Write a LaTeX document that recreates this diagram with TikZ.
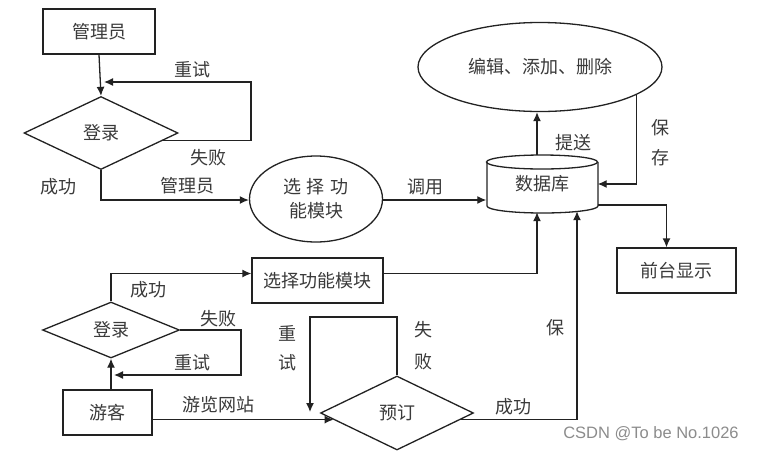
\documentclass[tikz,border=0pt]{standalone}
\usepackage{fontspec}
\newfontfamily\cjk{Noto Sans CJK SC}
\newfontfamily\wm{Liberation Sans}
\usetikzlibrary{shapes.geometric,arrows.meta,calc}
\definecolor{ln}{HTML}{222222}
\definecolor{tx}{HTML}{3a3a3a}
\begin{document}
\begin{tikzpicture}[x=1pt,y=-1pt,
  every node/.style={font=\cjk\fontsize{18}{21}\selectfont, text=tx},
  box/.style={draw=ln, line width=1.3pt, rectangle, inner sep=0pt},
  dia/.style={draw=ln, line width=1.3pt, diamond, inner sep=0pt},
  ell/.style={draw=ln, line width=1.3pt, ellipse, inner sep=0pt},
  arr/.style={draw=ln, line width=1.3pt, -{Latex[length=9pt,width=8pt]}},
  lbl/.style={inner sep=0pt}]
\useasboundingbox (0,0) rectangle (764,451);
\fill[white] (0,0) rectangle (764,451);

% upper part
\node[box, minimum width=112pt, minimum height=45pt] (adm) at (99,31.5) {管理员};
\node[dia, minimum width=154pt, minimum height=73pt] (d1) at (101,133) {登录};
\node[ell, minimum width=133pt, minimum height=86pt, align=center] (sel1) at (316,199) {选\,\,择\,\,功\\[3pt]能模块};
\node[ell, minimum width=244pt, minimum height=89pt] (ed) at (540,67) {编辑、添加、删除};
\node[minimum width=111pt, minimum height=58pt, inner sep=0pt] (db) at (542,184) {数据库};
\node[box, minimum width=119pt, minimum height=45pt] (front) at (676.5,270.5) {前台显示};

% cylinder outline
\draw[ln, line width=1.3pt] (487,162) -- (487,206) arc[start angle=180, end angle=360, x radius=55.5pt, y radius=7pt] -- (598,162);
\draw[ln, line width=1.3pt] (542,162) ellipse[x radius=55.5pt, y radius=7pt];

% lower part
\node[box, minimum width=131pt, minimum height=45pt] (sel2) at (317.5,280.5) {选择功能模块};
\node[dia, minimum width=137pt, minimum height=56pt] (d2) at (111,330) {登录};
\node[box, minimum width=89pt, minimum height=45pt] (guest) at (107.5,412.5) {游客};
\node[dia, minimum width=153pt, minimum height=74pt] (ord) at (397,413) {预订};

\coordinate (c1) at (251,82);
\coordinate (c3) at (241,375);
\coordinate (c4) at (310,317);
\coordinate (c5) at (310,412);

% connectors upper
\draw[arr] (adm.south) -- (d1.north);
\draw[arr] (d1.-7) -| (c1) -- ([xshift=3pt]d1.north |- c1);
\draw[arr] (d1.south) |- (sel1.west |- 0,200);
\draw[arr] (sel1.east |- 0,200) -- (db.west |- 0,200);
\draw[arr] ([xshift=-5pt]db.north) -- ([xshift=-3pt]ed.south);
\draw[arr] (ed.-16) |- (db.east);
\draw[arr] ([yshift=-21pt]db.east) -| ([xshift=-10pt]front.north);

% connectors lower
\draw[arr] (d2.north) |- ([yshift=7pt]sel2.west);
\draw[arr] ([yshift=7pt]sel2.east) -| ([xshift=-5pt,yshift=1pt]db.south);
\draw[arr] (d2.east) -| (c3) -- ([xshift=3pt]d2.south |- c3);
\draw[arr] (d2.south |- guest.north) -- (d2.south);
\draw[arr] (guest.east |- ord.186) -- (ord.186);
\draw[arr] (ord.north) |- (c4) -- (c5);
\draw[arr] (ord.-6) -| ([xshift=35pt,yshift=2pt]db.south);

% labels
\node[lbl] (l1) at (192,70) {重试};
\node[lbl] (l2) at (208,158) {失败};
\node[lbl] (l3) at (58,187) {成功};
\node[lbl] (l4) at (187,186) {管理员};
\node[lbl] (l5) at (425,187) {调用};
\node[lbl] (l6) at (573,143) {提送};
\node[lbl] (l7) at (660,128) {保};
\node[lbl] (l8) at (660,158) {存};
\node[lbl] (l9) at (148,290) {成功};
\node[lbl] (l10) at (218,319) {失败};
\node[lbl] (l11) at (192,363) {重试};
\node[lbl] (l12) at (218,405) {游览网站};
\node[lbl] (l13) at (287,333) {重};
\node[lbl] (l14) at (287,363) {试};
\node[lbl] (l15) at (423,330) {失};
\node[lbl] (l16) at (423,362) {败};
\node[lbl] (l17) at (555,328) {保};
\node[lbl] (l18) at (513,407) {成功};
\node[lbl, font=\wm\fontsize{16.5}{18}\selectfont, text=black!45] (wmk) at (651,434) {CSDN @To be No.1026};
\end{tikzpicture}
\end{document}
